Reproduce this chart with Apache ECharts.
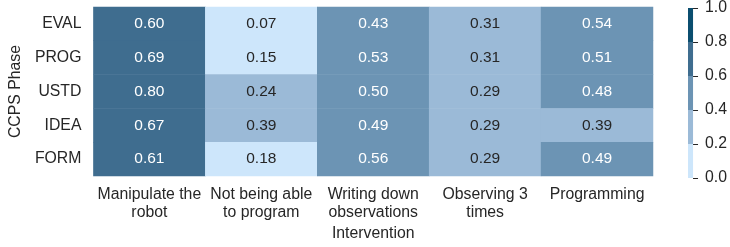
<!DOCTYPE html>
<html>
<head>
<meta charset="utf-8">
<script src="https://cdn.jsdelivr.net/npm/echarts@6/dist/echarts.min.js"></script>
<style>
  html, body { margin: 0; padding: 0; background: #fff; }
  #heatmap { width: 730px; height: 247px; }
</style>
</head>
<body>
<div id="heatmap"></div>
<script>
// 干预类别 (x 轴) 与 CCPS 阶段 (y 轴)
const interventions = [
  "Manipulate the\nrobot",
  "Not being able\nto program",
  "Writing down\nobservations",
  "Observing 3\ntimes",
  "Programming",
];
const phases = ["EVAL", "PROG", "USTD", "IDEA", "FORM"];

// 每一列的数值，从上 (EVAL) 到下 (FORM)
const manipulateRobot = [0.60, 0.69, 0.80, 0.67, 0.61];
const notAbleToProgram = [0.07, 0.15, 0.24, 0.39, 0.18];
const writingDown = [0.43, 0.53, 0.50, 0.49, 0.56];
const observing3Times = [0.31, 0.31, 0.29, 0.29, 0.29];
const programming = [0.54, 0.51, 0.48, 0.39, 0.49];

// 色标分段
const colorBounds = [0, 0.2, 0.4, 0.6, 0.8, 1.0];
const colorBarTicks = [0, 0.2, 0.4, 0.6, 0.8, 1.0];
const bandColors = ["#cde6fb", "#9bbad7", "#6c94b4", "#3f6d8f", "#0b4e6f"];

const columns = [manipulateRobot, notAbleToProgram, writingDown, observing3Times, programming];

const textDark = "#262626";
const fontFamily = "'Liberation Sans', Arial, sans-serif";

// 组装热力图数据
const heatData = [];
columns.forEach((col, x) => {
  col.forEach((v, y) => {
    heatData.push({
      value: [x, y, v],
      label: { color: v >= 0.4 ? "#ffffff" : textDark },
    });
  });
});

// 区间 [lo, hi)，最后一段包含 1.0
const pieces = bandColors.map((c, i) => {
  const p = { color: c, gte: colorBounds[i] };
  if (i === bandColors.length - 1) { p.lte = colorBounds[i + 1]; } else { p.lt = colorBounds[i + 1]; }
  return p;
});
// 0.80 那一格在原图属于 0.6-0.8 区段
delete pieces[3].lt;
pieces[3].lte = 0.8;
delete pieces[4].gte;
pieces[4].gt = 0.8;

const barSeries = bandColors.map((c, i) => ({
  type: "bar",
  xAxisIndex: 1,
  yAxisIndex: 1,
  stack: "cbar",
  barWidth: "100%",
  silent: true,
  itemStyle: { color: c },
  data: [colorBounds[i + 1] - colorBounds[i]],
}));

const chart = echarts.init(document.getElementById("heatmap"));

const option = {
  animation: false,
  textStyle: { fontFamily: fontFamily },
  grid: [
    { left: 92, top: 7, width: 561, height: 171 },
    { left: 688, top: 7, width: 8, height: 171 },
  ],
  xAxis: [
    {
      type: "category",
      gridIndex: 0,
      data: interventions,
      name: "Intervention",
      nameLocation: "middle",
      nameGap: 50,
      nameTextStyle: { color: textDark, fontSize: 15.8, fontFamily: fontFamily },
      axisLine: { show: false },
      axisTick: { show: false },
      splitLine: { show: false },
      axisLabel: {
        color: textDark,
        fontSize: 15.8,
        lineHeight: 17.5,
        margin: 10,
        interval: 0,
        fontFamily: fontFamily,
      },
    },
    {
      type: "category",
      gridIndex: 1,
      data: ["c"],
      show: false,
    },
  ],
  yAxis: [
    {
      type: "category",
      gridIndex: 0,
      data: phases,
      inverse: true,
      name: "CCPS Phase",
      nameLocation: "middle",
      nameRotate: 90,
      nameGap: 59,
      nameTextStyle: { color: textDark, fontSize: 15.8, fontFamily: fontFamily },
      axisLine: { show: false },
      axisTick: { show: false },
      splitLine: { show: false },
      axisLabel: { color: textDark, fontSize: 15.8, margin: 12, fontFamily: fontFamily },
    },
    {
      type: "value",
      gridIndex: 1,
      position: "right",
      min: 0,
      max: 1,
      interval: 0.2,
      axisLine: { show: false },
      splitLine: { show: false },
      axisTick: { show: true, length: 5, lineStyle: { color: textDark, width: 1 } },
      axisLabel: {
        color: textDark,
        fontSize: 15.8,
        margin: 12,
        fontFamily: fontFamily,
        formatter: (v) => {
          const t = colorBarTicks.find((k) => Math.abs(k - v) < 1e-6);
          return t === undefined ? "" : t.toFixed(1);
        },
      },
    },
  ],
  visualMap: {
    type: "piecewise",
    show: false,
    seriesIndex: 0,
    dimension: 2,
    pieces: pieces,
  },
  series: [
    {
      type: "heatmap",
      xAxisIndex: 0,
      yAxisIndex: 0,
      data: heatData,
      label: {
        show: true,
        fontSize: 15.5,
        fontFamily: fontFamily,
        formatter: (p) => p.value[2].toFixed(2),
      },
      itemStyle: { borderWidth: 0 },
      emphasis: { disabled: true },
    },
    ...barSeries,
  ],
};

option && chart.setOption(option);

window.addEventListener("resize", () => {
  chart && chart.resize();
});
</script>
</body>
</html>
